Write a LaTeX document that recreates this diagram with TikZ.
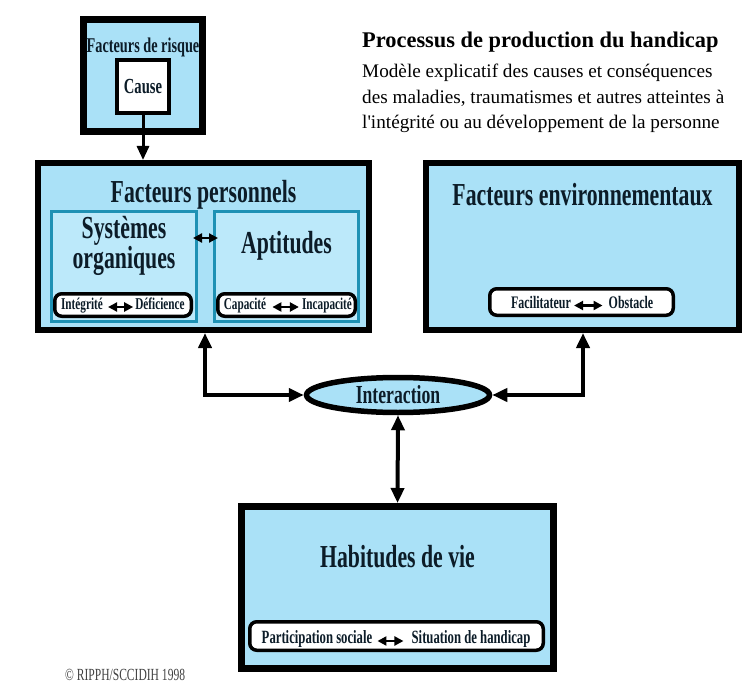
\documentclass[tikz,border=0pt]{standalone}
\usepackage{fontspec}
\setmainfont{Liberation Serif}
\newfontfamily\narrowfont[FakeStretch=0.68]{Liberation Serif}
\usetikzlibrary{arrows.meta,shapes.geometric}
\definecolor{sky}{RGB}{170,225,247}
\definecolor{skylight}{RGB}{188,233,250}
\definecolor{frame}{RGB}{30,145,180}
\definecolor{ink}{RGB}{12,28,40}
\newcommand{\fsz}[1]{\fontsize{#1}{#1}\selectfont}

\begin{document}
\begin{tikzpicture}[x=1pt,y=-1pt]
        \tikzset{box/.style = {shape=rectangle,draw,line width=6pt,fill=sky,inner sep=0pt}}
        \tikzset{subbox/.style = {shape=rectangle,draw=frame,line width=3pt,fill=skylight,inner sep=0pt}}
        \tikzset{pill/.style = {shape=rectangle,draw,line width=3.5pt,rounded corners=7pt,fill=white,inner sep=0pt}}
        \tikzset{title/.style = {anchor=base,inner sep=0pt,text=ink,font=\narrowfont\bfseries\fsz{32}}}
        \tikzset{word/.style = {anchor=base,inner sep=0pt,text height=0.7em,text depth=0.2em,text=ink,font=\narrowfont\bfseries\fsz{17.6}}}
        \tikzset{head/.style = {anchor=base west,inner sep=0pt,font=\fsz{19.2}}}
        \tikzset{link/.style = {line width=4pt,>={Triangle[width=13pt,length=15pt]},<->}}
        \tikzset{minilink/.style = {line width=2.2pt,>={Triangle[width=9pt,length=9pt]},<->}}

        \useasboundingbox (0,0) rectangle (751,700);

        \node[box,line width=7pt,minimum width=119pt,minimum height=112pt] (RF) at (143,75.5) {};
        \node[title,font=\narrowfont\bfseries\fsz{21}] (RFt) at (143,53) {Facteurs de risque};
        \node[shape=rectangle,draw,line width=4pt,fill=white,minimum width=52pt,minimum height=53pt,text=ink,font=\narrowfont\bfseries\fsz{21.5}] (C) at (143,86.5) {Cause};

        \node[head,font=\bfseries\fsz{22.4}] (H0) at (362,48) {Processus de production du handicap};
        \node[head] (H1) at (362,78) {Modèle explicatif des causes et conséquences};
        \node[head] (H2) at (362,104) {des maladies, traumatismes et autres atteintes à};
        \node[head] (H3) at (362,129) {l\textquotesingle intégrité ou au développement de la personne};

        \node[box,minimum width=331pt,minimum height=167pt] (FP) at (203.5,246.5) {};
        \node[title] (FPt) at (203.5,203) {Facteurs personnels};
        \node[subbox,minimum width=145pt,minimum height=110pt] (SO) at (124,266.5) {};
        \node[subbox,minimum width=144pt,minimum height=110pt] (AP) at (286.5,266.5) {};
        \node[title] (SO1) at (124,239) {Systèmes};
        \node[title] (SO2) at (124,269) {organiques};
        \node[title] (APt) at (286.5,254) {Aptitudes};

        \node[pill,minimum width=136.5pt,minimum height=22.5pt] (P1) at (123,305) {};
        \node[word,font=\narrowfont\bfseries\fsz{16.5}] (I1) at (82,309.5) {Intégrité};
        \node[word,font=\narrowfont\bfseries\fsz{16.5}] (D1) at (160,309.5) {Déficience};
        \node[pill,minimum width=137.5pt,minimum height=22.5pt] (P2) at (286.5,305) {};
        \node[word,font=\narrowfont\bfseries\fsz{16.5}] (C2) at (245,309.5) {Capacité};
        \node[word,font=\narrowfont\bfseries\fsz{16.5}] (I2) at (327,309.5) {Incapacité};

        \node[box,minimum width=313pt,minimum height=167pt] (FE) at (582.5,246.5) {};
        \node[title] (FEt) at (582.5,206) {Facteurs environnementaux};
        \node[pill,minimum width=183.5pt,minimum height=26.5pt] (P3) at (581.5,302) {};
        \node[word] (F3) at (541,308) {Facilitateur};
        \node[word] (O3) at (631,308) {Obstacle};

        \node[shape=ellipse,draw,line width=5.5pt,fill=sky,minimum width=183pt,minimum height=35pt,inner sep=0pt,text=ink,font=\narrowfont\bfseries\fsz{26}] (IN) at (398,395) {Interaction};

        \node[box,line width=7pt,minimum width=312pt,minimum height=162pt] (HV) at (397.5,587.5) {};
        \node[title] (HVt) at (397.5,567) {Habitudes de vie};
        \node[pill,minimum width=293.5pt,minimum height=28.5pt] (P4) at (396.5,636) {};
        \node[word,font=\narrowfont\bfseries\fsz{18.7}] (PS) at (317,643.5) {Participation sociale};
        \node[word,font=\narrowfont\bfseries\fsz{18.7}] (SH) at (471,643.5) {Situation de handicap};

        \node[anchor=base west,inner sep=0pt,text=black!75,font=\narrowfont\fsz{17}] (CR) at (65,680) {\textcopyright{} RIPPH/SCCIDIH 1998};

        \coordinate (KL) at (205,395);
        \coordinate (KR) at (583,395);

        \draw[line width=3pt,-{Triangle[width=12pt,length=14pt]}] (C.south) -- (C.south |- FP.north);
        \draw[link] (FP.south -| KL) -- (KL) -- (IN.west);
        \draw[link] (FE.south -| KR) -- (KR) -- (IN.east);
        \draw[link] (IN.south) -- (HV.north);

        \draw[minilink,shorten <=-5pt,shorten >=-5pt] ([yshift=28.5pt]SO.east) -- ([yshift=28.5pt]AP.west);
        \draw[minilink,shorten <=5pt,shorten >=2pt] (I1) -- (D1);
        \draw[minilink,shorten <=6pt,shorten >=3pt] (C2) -- (I2);
        \draw[minilink,shorten <=3pt,shorten >=6pt] (F3) -- (O3);
        \draw[minilink,shorten <=5pt,shorten >=8pt] (PS) -- (SH);
\end{tikzpicture}
\end{document}
